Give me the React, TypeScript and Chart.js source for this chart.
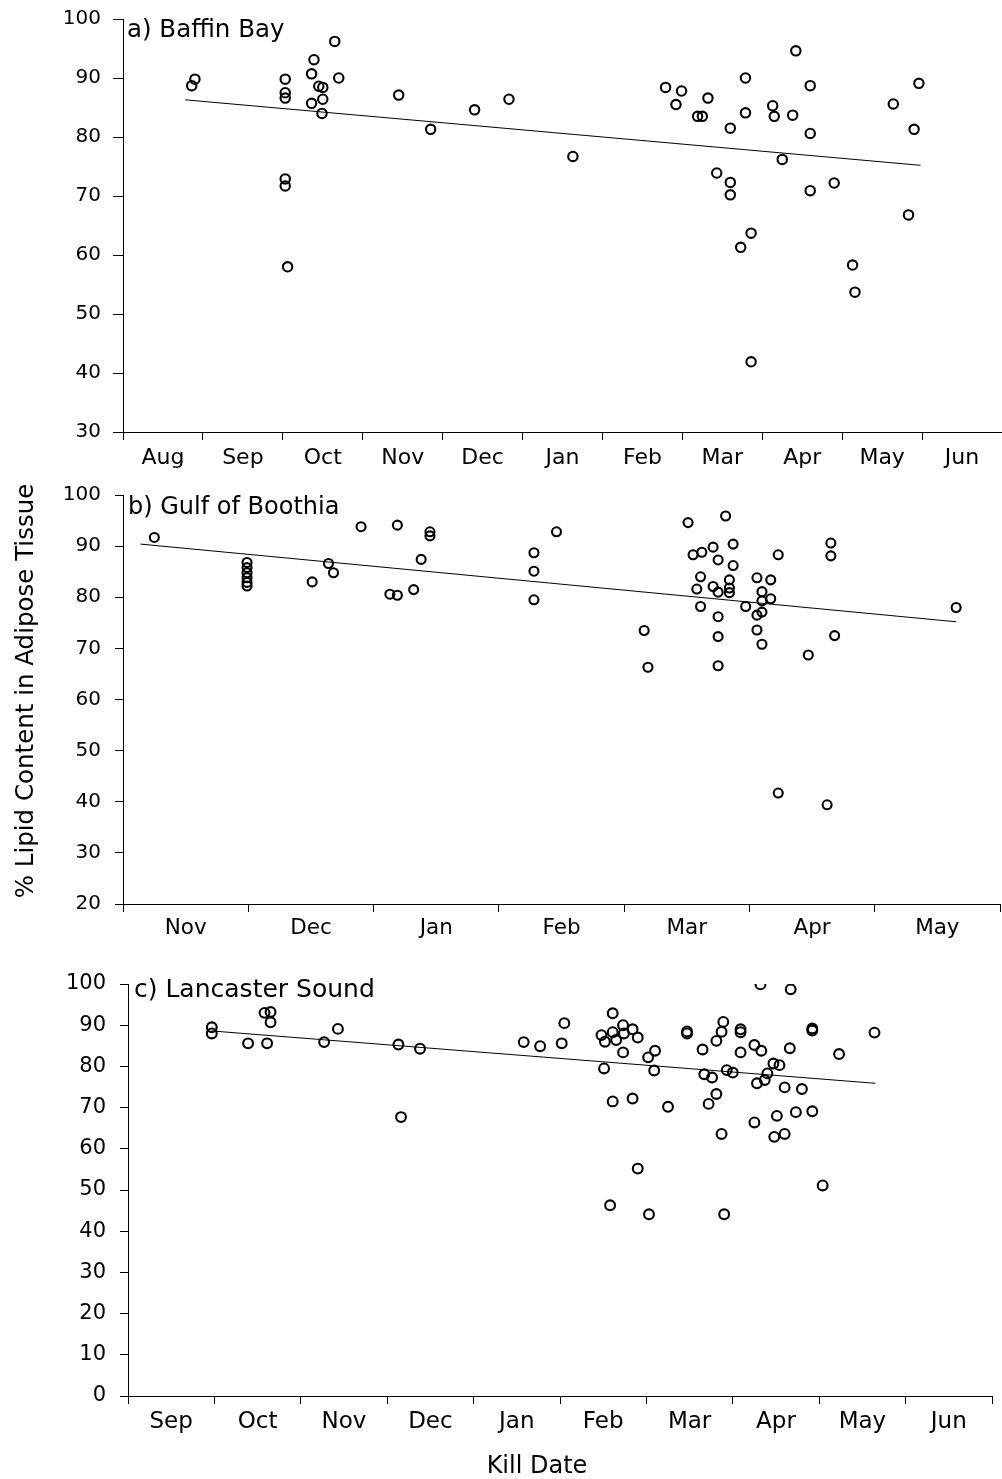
import React, { useEffect, useRef } from "react";
import { Chart, registerables } from "chart.js";

Chart.register(...registerables);

const FONT_FAMILY = "'DejaVu Sans', 'Liberation Sans', Arial, sans-serif";

// a) Baffin Bay — kill date in months elapsed since 1 Aug
const baffinMonths = ["Aug", "Sep", "Oct", "Nov", "Dec", "Jan", "Feb", "Mar", "Apr", "May", "Jun"];
const baffinKill = [
  0.86, 0.9, 2.03, 2.03, 2.03, 2.03, 2.03, 2.06, 2.39, 2.36, 2.36, 2.45, 2.5, 2.5, 2.49, 2.65, 2.7,
  3.45, 3.85, 4.4, 4.83, 5.63, 6.79, 6.99, 6.92, 7.32, 7.19, 7.25, 7.6, 7.79, 7.79, 7.43, 7.6, 7.6,
  7.86, 7.73, 7.86, 8.13, 8.15, 8.42, 8.38, 8.25, 8.6, 8.6, 8.6, 8.9, 9.13, 9.16, 9.64, 9.9, 9.96, 9.83,
];
const baffinLipid = [
  88.7, 89.8, 89.8, 87.5, 86.6, 72.9, 71.7, 58.0, 93.1, 90.7, 85.7, 88.6, 88.4, 86.4, 84.0, 96.2, 90.0,
  87.1, 81.3, 84.6, 86.4, 76.7, 88.4, 87.8, 85.5, 86.6, 83.5, 83.5, 81.5, 90.0, 84.1, 73.9, 72.3, 70.2,
  63.7, 61.3, 41.9, 85.3, 83.5, 94.6, 83.7, 76.2, 88.7, 80.6, 70.9, 72.2, 58.3, 53.7, 85.6, 81.3, 89.1, 66.8,
];
const baffinTrendKill = [0.78, 9.98];
const baffinTrendLipid = [86.3, 75.2];

// b) Gulf of Boothia — kill date in months elapsed since 1 Nov
const boothiaMonths = ["Nov", "Dec", "Jan", "Feb", "Mar", "Apr", "May"];
const boothiaKill = [
  0.25, 0.99, 0.99, 0.99, 0.99, 0.99, 0.99, 1.51, 1.64, 1.68, 1.9, 2.19, 2.13, 2.19, 2.32, 2.38, 2.45, 2.45,
  3.28, 3.28, 3.28, 3.46, 4.16, 4.19, 4.51, 4.81, 4.55, 4.62, 4.71, 4.87, 4.75, 4.87, 4.61, 4.58, 4.71,
  4.75, 4.84, 4.84, 4.84, 4.61, 4.75, 4.75, 4.75, 4.97, 5.06, 5.17, 5.1, 5.1, 5.17, 5.06, 5.1, 5.06, 5.1,
  5.23, 5.23, 5.65, 5.65, 5.68, 5.47, 5.62, 6.65,
];
const boothiaLipid = [
  91.7, 86.8, 85.8, 84.8, 83.8, 82.9, 82.2, 83.0, 86.6, 84.8, 93.8, 94.1, 80.6, 80.4, 81.5, 87.4, 92.8, 92.0,
  88.7, 85.1, 79.5, 92.8, 73.5, 66.3, 94.6, 95.9, 88.3, 88.8, 89.8, 90.4, 87.3, 86.2, 84.0, 81.6, 82.1,
  81.0, 83.4, 81.8, 80.9, 78.2, 76.2, 72.3, 66.6, 78.2, 83.8, 83.4, 81.1, 79.3, 79.7, 76.5, 77.1, 73.6, 70.8,
  88.3, 41.7, 90.6, 88.1, 72.5, 68.7, 39.4, 78.0,
];
const boothiaTrendKill = [0.14, 6.65];
const boothiaTrendLipid = [90.4, 75.2];

// c) Lancaster Sound — kill date in months elapsed since 1 Sep
const lancasterMonths = ["Sep", "Oct", "Nov", "Dec", "Jan", "Feb", "Mar", "Apr", "May", "Jun"];
const lancasterKill = [
  0.97, 0.97, 1.39, 1.58, 1.65, 1.65, 1.61, 2.27, 2.43, 3.13, 3.38, 3.16, 4.58, 4.77, 5.02, 5.05,
  5.48, 5.52, 5.61, 5.61, 5.65, 5.73, 5.74, 5.84, 5.9, 5.73, 5.51, 6.02, 6.1, 6.09, 6.47, 6.47,
  5.61, 5.84, 5.9, 5.58, 6.03, 6.25,
  6.65, 6.81, 6.87, 6.89, 6.67, 6.76, 6.81, 6.72, 6.87, 6.9, 6.93, 7.0, 7.09, 7.09, 7.09, 7.25, 7.33,
  7.32, 7.28, 7.37, 7.4, 7.47, 7.54, 7.25, 7.51, 7.48, 7.6, 7.6, 7.67, 7.66, 7.8, 7.73, 7.92, 7.92,
  7.92, 8.23, 8.04, 8.64,
];
const lancasterLipid = [
  89.5, 88.0, 85.6, 93.0, 93.2, 90.7, 85.6, 85.9, 89.1, 85.3, 84.3, 67.7, 85.9, 84.9, 85.6, 90.5,
  87.6, 86.0, 92.9, 88.3, 86.4, 90.0, 88.0, 89.0, 87.0, 83.4, 79.5, 82.2, 83.8, 79.0, 88.5, 88.0,
  71.5, 72.2, 55.2, 46.3, 44.1, 70.2,
  84.1, 86.2, 88.4, 90.8, 78.1, 77.3, 73.3, 70.9, 63.6, 44.1, 79.1, 78.5, 89.0, 88.3, 83.4, 85.2, 83.8,
  99.9, 75.9, 76.7, 78.3, 80.7, 80.3, 66.4, 68.0, 62.9, 63.6, 74.9, 98.7, 84.4, 74.5, 68.9, 69.1, 89.2,
  88.7, 83.0, 51.1, 88.2,
];
const lancasterTrendKill = [0.97, 8.65];
const lancasterTrendLipid = [88.6, 75.9];

const lipidAxisTitle = "% Lipid Content in Adipose Tissue";
const killAxisTitle = "Kill Date";

type Area = { left: number; top: number; right: number; bottom: number };
type Caption = {
  text: string;
  size: number;
  place: (area: Area) => [number, number];
  align: CanvasTextAlign;
  rotate?: boolean;
};

type PanelProps = {
  top: number;
  height: number;
  padTop: number;
  padRight: number;
  yAxisWidth: number;
  xAxisHeight: number;
  months: string[];
  kill: number[];
  lipid: number[];
  trendKill: number[];
  trendLipid: number[];
  yMin: number;
  yMax: number;
  yTickSize: number;
  yTickLength: number;
  yTickPadding: number;
  xTickSize: number;
  xTickPadding: number;
  pointRadius: number;
  captions: Caption[];
};

// keep tick-label overhang from pushing the plot area inwards
function clearScalePadding(scale: any) {
  scale.paddingTop = 0;
  scale.paddingBottom = 0;
  scale.paddingLeft = 0;
  scale.paddingRight = 0;
}

function Panel(p: PanelProps) {
  const ref = useRef<HTMLCanvasElement | null>(null);

  useEffect(() => {
    const canvas = ref.current;
    if (!canvas) return;

    // panel letter titles and the shared axis titles
    const captionPlugin = {
      id: "captions",
      afterDraw(chart: Chart) {
        const { ctx, chartArea } = chart;
        for (const c of p.captions) {
          const [x, y] = c.place(chartArea as Area);
          ctx.save();
          ctx.font = `${c.size}px ${FONT_FAMILY}`;
          ctx.fillStyle = "#000";
          ctx.textAlign = c.align;
          ctx.textBaseline = "alphabetic";
          ctx.translate(x, y);
          if (c.rotate) ctx.rotate(-Math.PI / 2);
          ctx.fillText(c.text, 0, 0);
          ctx.restore();
        }
      },
    };

    const nMonths = p.months.length;

    const chart = new Chart(canvas, {
      type: "scatter",
      data: {
        datasets: [
          {
            data: p.kill.map((x, i) => ({ x, y: p.lipid[i] })),
            pointStyle: "circle",
            pointRadius: p.pointRadius,
            pointBorderWidth: 2.1,
            pointBorderColor: "#000",
            pointBackgroundColor: "rgba(0,0,0,0)",
            showLine: false,
          },
          {
            type: "line",
            data: p.trendKill.map((x, i) => ({ x, y: p.trendLipid[i] })),
            borderColor: "#000",
            borderWidth: 1,
            pointRadius: 0,
            fill: false,
            tension: 0,
          } as any,
        ],
      },
      options: {
        responsive: false,
        animation: false,
        events: [],
        layout: {
          autoPadding: false,
          padding: { top: p.padTop, right: p.padRight, bottom: 0, left: 0 },
        },
        plugins: {
          legend: { display: false },
          tooltip: { enabled: false },
        },
        scales: {
          x: {
            type: "linear",
            min: 0,
            max: nMonths,
            // month boundaries carry tick marks, month names sit at mid-month
            afterBuildTicks: (scale: any) => {
              const ticks = [];
              for (let i = 0; i <= nMonths * 2; i++) ticks.push({ value: i / 2 });
              scale.ticks = ticks;
            },
            afterFit: (scale: any) => {
              scale.height = p.xAxisHeight;
              clearScalePadding(scale);
            },
            ticks: {
              autoSkip: false,
              maxRotation: 0,
              minRotation: 0,
              padding: p.xTickPadding,
              color: "#000",
              font: { family: FONT_FAMILY, size: p.xTickSize },
              callback: (v: any) => {
                const n = Number(v);
                return Number.isInteger(n) ? "" : p.months[Math.floor(n)];
              },
            },
            grid: {
              drawOnChartArea: false,
              drawTicks: true,
              tickLength: 8,
              tickColor: (ctx: any) =>
                ctx.tick && Number.isInteger(ctx.tick.value) ? "#000" : "rgba(0,0,0,0)",
              tickWidth: (ctx: any) => (ctx.tick && Number.isInteger(ctx.tick.value) ? 1 : 0),
            },
            border: { display: true, color: "#000", width: 1 },
          },
          y: {
            type: "linear",
            min: p.yMin,
            max: p.yMax,
            afterBuildTicks: (scale: any) => {
              const ticks = [];
              for (let v = p.yMin; v <= p.yMax; v += 10) ticks.push({ value: v });
              scale.ticks = ticks;
            },
            afterFit: (scale: any) => {
              scale.width = p.yAxisWidth;
              clearScalePadding(scale);
            },
            ticks: {
              padding: p.yTickPadding,
              color: "#000",
              font: { family: FONT_FAMILY, size: p.yTickSize },
            },
            grid: {
              drawOnChartArea: false,
              drawTicks: true,
              tickLength: p.yTickLength,
              tickColor: "#000",
              tickWidth: 1,
            },
            border: { display: true, color: "#000", width: 1 },
          },
        },
      },
      plugins: [captionPlugin],
    });

    return () => chart.destroy();
  }, []);

  return (
    <canvas
      ref={ref}
      width={1002}
      height={p.height}
      style={{ position: "absolute", left: 0, top: p.top, width: 1002, height: p.height }}
    />
  );
}

export default function App() {
  return (
    <div
      style={{
        position: "absolute",
        left: 0,
        top: 0,
        width: 1002,
        height: 1479,
        background: "#fff",
        overflow: "hidden",
      }}
    >
      <Panel
        top={0}
        height={470}
        padTop={19}
        padRight={0}
        yAxisWidth={123}
        xAxisHeight={38}
        months={baffinMonths}
        kill={baffinKill}
        lipid={baffinLipid}
        trendKill={baffinTrendKill}
        trendLipid={baffinTrendLipid}
        yMin={30}
        yMax={100}
        yTickSize={20}
        yTickLength={10}
        yTickPadding={12}
        xTickSize={22}
        xTickPadding={5}
        pointRadius={4.7}
        captions={[
          { text: "a) Baffin Bay", size: 24.5, align: "left", place: (a) => [a.left + 4, a.top + 18] },
        ]}
      />
      <Panel
        top={470}
        height={480}
        padTop={25}
        padRight={2}
        yAxisWidth={123}
        xAxisHeight={46}
        months={boothiaMonths}
        kill={boothiaKill}
        lipid={boothiaLipid}
        trendKill={boothiaTrendKill}
        trendLipid={boothiaTrendLipid}
        yMin={20}
        yMax={100}
        yTickSize={20}
        yTickLength={8}
        yTickPadding={14}
        xTickSize={21.5}
        xTickPadding={4}
        pointRadius={4.5}
        captions={[
          { text: "b) Gulf of Boothia", size: 24, align: "left", place: (a) => [a.left + 5, a.top + 19] },
          { text: lipidAxisTitle, size: 24.5, align: "center", rotate: true, place: () => [33, 221] },
        ]}
      />
      <Panel
        top={950}
        height={529}
        padTop={34}
        padRight={10}
        yAxisWidth={128}
        xAxisHeight={83}
        months={lancasterMonths}
        kill={lancasterKill}
        lipid={lancasterLipid}
        trendKill={lancasterTrendKill}
        trendLipid={lancasterTrendLipid}
        yMin={0}
        yMax={100}
        yTickSize={21}
        yTickLength={8}
        yTickPadding={14}
        xTickSize={23}
        xTickPadding={4}
        pointRadius={4.9}
        captions={[
          { text: "c) Lancaster Sound", size: 25, align: "left", place: (a) => [a.left + 6, a.top + 13] },
          { text: killAxisTitle, size: 24, align: "center", place: () => [537, 523] },
        ]}
      />
    </div>
  );
}
